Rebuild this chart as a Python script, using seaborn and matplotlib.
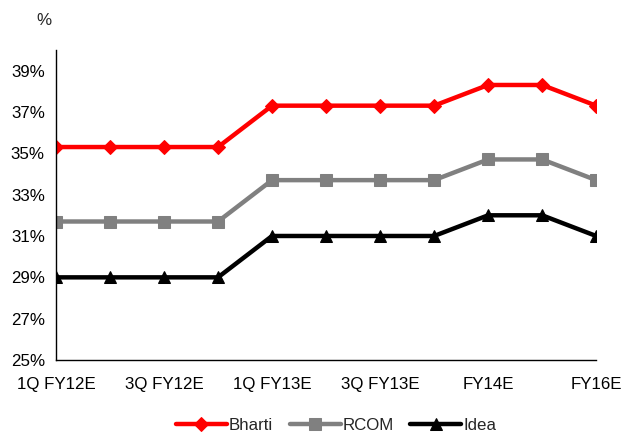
import matplotlib
matplotlib.use("Agg")
import matplotlib.pyplot as plt
import seaborn as sns
import pandas as pd

periods = ["1Q FY12E", "2Q FY12E", "3Q FY12E", "4Q FY12E",
           "1Q FY13E", "2Q FY13E", "3Q FY13E", "4Q FY13E",
           "FY14E", "FY15E", "FY16E"]
bharti = [35.3, 35.3, 35.3, 35.3, 37.3, 37.3, 37.3, 37.3, 38.3, 38.3, 37.3]
rcom = [31.7, 31.7, 31.7, 31.7, 33.7, 33.7, 33.7, 33.7, 34.7, 34.7, 33.7]
idea = [29.0, 29.0, 29.0, 29.0, 31.0, 31.0, 31.0, 31.0, 32.0, 32.0, 31.0]
shown_labels = ["1Q FY12E", "3Q FY12E", "1Q FY13E", "3Q FY13E", "FY14E", "FY16E"]

series = {"Bharti": bharti, "RCOM": rcom, "Idea": idea}
colors = {"Bharti": "#ff0000", "RCOM": "#808080", "Idea": "#000000"}
markers = {"Bharti": "D", "RCOM": "s", "Idea": "^"}
msizes = {"Bharti": 7, "RCOM": 8, "Idea": 8.5}

rows = []
for name, vals in series.items():
    for i, (p, v) in enumerate(zip(periods, vals)):
        rows.append({"idx": i, "period": p, "value": v, "company": name})
df = pd.DataFrame(rows)

sns.set_style("white")
plt.rcParams["font.family"] = ["Liberation Sans", "DejaVu Sans"]
FS = 12.2
plt.rcParams["font.size"] = FS

fig = plt.figure(figsize=(6.34, 4.37), dpi=100)
ax = fig.add_axes([0.0883, 0.176, 0.852, 0.710])

for name in series:
    sub = df[df["company"] == name]
    sns.lineplot(data=sub, x="idx", y="value", ax=ax, color=colors[name],
                 marker=markers[name], markersize=msizes[name],
                 markeredgecolor=colors[name], linewidth=3.2, label=name)

ax.set_xlim(0, len(periods) - 1)
ax.set_ylim(25, 40)
ax.set_yticks(range(25, 40, 2))
ax.set_yticklabels([f"{v}%" for v in range(25, 40, 2)])
ax.set_xticks(range(len(periods)))
ax.set_xticklabels([p if p in shown_labels else "" for p in periods])
ax.set_xlabel("")
ax.set_ylabel("")

for side in ["top", "right"]:
    ax.spines[side].set_visible(False)
for side in ["left", "bottom"]:
    ax.spines[side].set_color("black")
    ax.spines[side].set_linewidth(1.0)
ax.tick_params(axis="both", which="both", direction="out", length=5,
               width=1, color="black", labelsize=FS, labelcolor="black")
ax.tick_params(axis="x", pad=7)
ax.tick_params(axis="y", pad=3)

ax.legend_.remove()
handles, labels = ax.get_legend_handles_labels()
fig.legend(handles, labels, loc="lower center", bbox_to_anchor=(0.53, -0.025),
           ncol=3, frameon=False, handlelength=3.0, handletextpad=0.1,
           columnspacing=1.0, fontsize=FS)

fig.text(0.058, 0.952, "%", fontsize=FS, ha="left", va="center")

fig.savefig("out.png", dpi=100)
